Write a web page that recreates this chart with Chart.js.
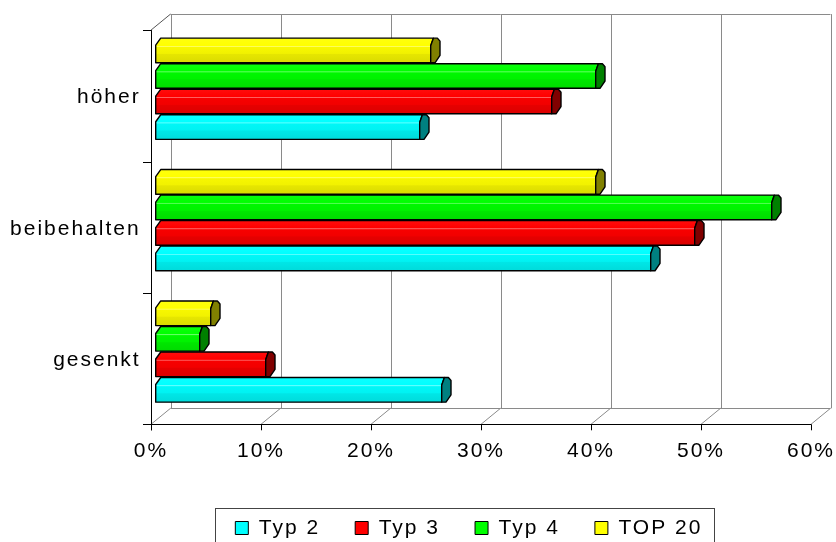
<!DOCTYPE html>
<html>
<head>
<meta charset="utf-8">
<script src="https://cdn.jsdelivr.net/npm/chart.js@4.4.1/dist/chart.umd.min.js"></script>
<style>
  html, body { margin: 0; padding: 0; background: #ffffff; }
  canvas { display: block; }
</style>
</head>
<body>
<canvas id="chart" width="836" height="542"></canvas>
<script>
// ---- data ----
const categories = ['höher', 'beibehalten', 'gesenkt'];
const seriesNames = ['Typ 2', 'Typ 3', 'Typ 4', 'TOP 20'];
const typ2 = [24, 45, 26];
const typ3 = [36, 49, 10];
const typ4 = [40, 56, 4];
const top20 = [25, 40, 5];
const valueTicks = [0, 10, 20, 30, 40, 50, 60];

// ---- styles ----
const faceColors = ['#00FFFF', '#FF0000', '#00FF00', '#FFFF00'];
const capColors  = ['#008080', '#800000', '#008000', '#808000'];
const seriesValues = [typ2, typ3, typ4, top20];

// Inside each category band the last series sits on top, so datasets are listed
// top-to-bottom and the legend is reversed back into series order.
const stackOrder = [3, 2, 1, 0];
const datasets = stackOrder.map(i => ({
  label: seriesNames[i],
  data: seriesValues[i],
  backgroundColor: faceColors[i],
  borderColor: '#000000',
  borderWidth: 1,
  capColor: capColors[i]
}));

// oblique offsets of the front and back planes relative to the bar plane
const FRONT = { dx: -4.7, dy: 7.3 };
const BACK  = { dx: 14.8, dy: -8.7 };

function setSpacing(ctx) {
  if ('letterSpacing' in ctx) ctx.letterSpacing = '2px';
}

function rgb(hex) {
  const n = parseInt(hex.slice(1), 16);
  return [(n >> 16) & 255, (n >> 8) & 255, n & 255];
}
function shade(hex, f) {
  let [r, g, b] = rgb(hex);
  if (f >= 0) { r += (255 - r) * f; g += (255 - g) * f; b += (255 - b) * f; }
  else { r *= 1 + f; g *= 1 + f; b *= 1 + f; }
  return `rgb(${Math.round(r)},${Math.round(g)},${Math.round(b)})`;
}

function line(ctx, x1, y1, x2, y2) {
  ctx.beginPath();
  ctx.moveTo(x1, y1);
  ctx.lineTo(x2, y2);
  ctx.stroke();
}
const crisp = v => Math.round(v) + 0.5;

function drawBar(ctx, x0, xe, top, bot, face, cap) {
  const bevX = 5, bevY = 7;
  // front body with a bevelled top-left corner
  const grad = ctx.createLinearGradient(0, top, 0, bot);
  grad.addColorStop(0.00, shade(face, 0.05));
  grad.addColorStop(0.30, face);
  grad.addColorStop(0.33, shade(face, 0.45));
  grad.addColorStop(0.37, shade(face, -0.03));
  grad.addColorStop(0.62, shade(face, -0.05));
  grad.addColorStop(0.66, shade(face, -0.10));
  grad.addColorStop(1.00, shade(face, -0.14));
  ctx.beginPath();
  ctx.moveTo(x0, top + bevY);
  ctx.lineTo(x0 + bevX, top);
  ctx.lineTo(xe + 2.7, top);
  ctx.lineTo(xe, top + 7.7);
  ctx.lineTo(xe, bot);
  ctx.lineTo(x0, bot);
  ctx.closePath();
  ctx.fillStyle = grad;
  ctx.fill();
  ctx.stroke();
  // end cap
  ctx.beginPath();
  ctx.moveTo(xe, top + 7.7);
  ctx.lineTo(xe + 2.7, top);
  ctx.lineTo(xe + 6.7, top);
  ctx.lineTo(xe + 9.3, top + 3);
  ctx.lineTo(xe + 9.3, bot - 7.3);
  ctx.lineTo(xe + 4.3, bot);
  ctx.lineTo(xe, bot);
  ctx.closePath();
  ctx.fillStyle = cap;
  ctx.fill();
  ctx.stroke();
}

const depthPlugin = {
  id: 'depth3d',
  beforeUpdate(chart) { setSpacing(chart.ctx); },
  beforeLayout(chart) { setSpacing(chart.ctx); },
  afterLayout(chart) {
    // let the category labels use the free space left of the axis
    if (chart.scales.y) chart.scales.y.left = 0;
  },
  beforeDraw(chart) { setSpacing(chart.ctx); },
  beforeDatasetsDraw(chart) {
    const { ctx, chartArea: ca, scales: { x, y } } = chart;
    const fx = v => x.getPixelForValue(v) + FRONT.dx;
    const bx = v => x.getPixelForValue(v) + BACK.dx;
    const frontTop = ca.top + FRONT.dy, frontBot = ca.bottom + FRONT.dy;
    const backTop = ca.top + BACK.dy, backBot = ca.bottom + BACK.dy;
    const vMin = valueTicks[0], vMax = valueTicks[valueTicks.length - 1];

    ctx.save();
    ctx.lineWidth = 1;
    // back wall gridlines and floor lines
    ctx.strokeStyle = '#8a8a8a';
    valueTicks.forEach(v => {
      line(ctx, crisp(bx(v)), backTop, crisp(bx(v)), backBot);
      line(ctx, fx(v), frontBot, bx(v), backBot);
    });
    line(ctx, bx(vMin), crisp(backTop), bx(vMax), crisp(backTop));
    line(ctx, bx(vMin), crisp(backBot), bx(vMax), crisp(backBot));
    ctx.strokeStyle = '#555555';
    line(ctx, fx(vMin), frontTop, bx(vMin), backTop);

    // front axes with ticks
    ctx.strokeStyle = '#000000';
    line(ctx, crisp(fx(vMin)), frontTop, crisp(fx(vMin)), frontBot + 6);
    line(ctx, fx(vMin) - 8, crisp(frontBot), fx(vMax), crisp(frontBot));
    valueTicks.forEach(v => line(ctx, crisp(fx(v)), frontBot, crisp(fx(v)), frontBot + 6));
    const band = y.getPixelForValue(1) - y.getPixelForValue(0);
    const firstEdge = y.getPixelForValue(0) - band / 2 + FRONT.dy;
    for (let i = 0; i <= categories.length; i++) {
      const yb = crisp(firstEdge + i * band);
      line(ctx, fx(vMin) - 8, yb, fx(vMin), yb);
    }

    // bars
    ctx.lineWidth = 1.4;
    ctx.lineJoin = 'round';
    ctx.strokeStyle = '#000000';
    chart.data.datasets.forEach((ds, di) => {
      const meta = chart.getDatasetMeta(di);
      meta.data.forEach(el => {
        const top = el.y - el.height / 2 + 0.7;
        const bot = el.y + el.height / 2 - 0.2;
        drawBar(ctx, el.base, el.x, top, bot, ds.backgroundColor, ds.capColor);
      });
    });
    ctx.restore();
    return false;
  },
  afterDraw(chart) {
    const lg = chart.legend;
    if (!lg || !lg.legendHitBoxes || !lg.legendHitBoxes.length) return;
    const hb = lg.legendHitBoxes;
    const left = Math.min(...hb.map(h => h.left));
    const right = Math.max(...hb.map(h => h.left + h.width));
    const cy = hb[0].top + hb[0].height / 2;
    const ctx = chart.ctx;
    ctx.save();
    ctx.strokeStyle = '#444444';
    ctx.lineWidth = 1;
    ctx.strokeRect(crisp(left - 20), crisp(cy - 20), Math.round(right - left + 32), 80);
    ctx.restore();
  }
};

Chart.defaults.font.family = '"Liberation Sans", Arial, sans-serif';
Chart.defaults.font.size = 21;
Chart.defaults.color = '#000000';

new Chart(document.getElementById('chart'), {
  type: 'bar',
  data: { labels: categories, datasets },
  options: {
    responsive: false,
    animation: false,
    devicePixelRatio: 1,
    indexAxis: 'y',
    layout: { padding: { left: 122, right: 20.3, top: 22.8, bottom: -6.5 } },
    datasets: { bar: { categoryPercentage: 0.777, barPercentage: 1 } },
    scales: {
      x: {
        min: valueTicks[0],
        max: valueTicks[valueTicks.length - 1],
        grid: { display: false, drawTicks: false },
        border: { display: false },
        afterBuildTicks: s => { s.ticks = valueTicks.map(v => ({ value: v })); },
        ticks: {
          padding: 22,
          labelOffset: -4.7,
          maxRotation: 0,
          autoSkip: false,
          callback: v => v + '%'
        },
        afterFit: s => { s.height = 65.5; s.paddingLeft = 0; s.paddingRight = 0; }
      },
      y: {
        grid: { display: false, drawTicks: false },
        border: { display: false },
        ticks: { padding: 15, labelOffset: 9 },
        afterFit: s => { s.width = 33.7; s.paddingTop = 0; s.paddingBottom = 0; }
      }
    },
    plugins: {
      legend: {
        position: 'bottom',
        reverse: true,
        labels: { boxWidth: 13, boxHeight: 13, padding: 35, color: '#000000' }
      },
      tooltip: { enabled: false }
    }
  },
  plugins: [depthPlugin]
});
</script>
</body>
</html>
